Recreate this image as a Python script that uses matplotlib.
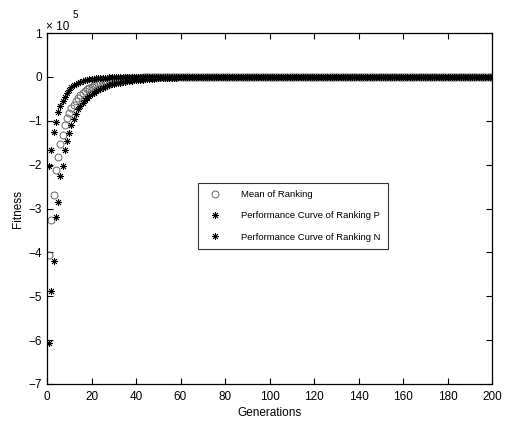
import matplotlib
matplotlib.use("Agg")
import matplotlib.pyplot as plt

plt.rcParams['font.family'] = ['Liberation Sans', 'DejaVu Sans']

generations = list(range(1, 201))

mean_ranking = [
    -4.05, -3.26, -2.69, -2.12, -1.82, -1.53, -1.32, -1.09, -0.94, -0.82,
    -0.72, -0.63, -0.55, -0.48, -0.42, -0.37, -0.32, -0.28, -0.25, -0.22,
    -0.19, -0.17, -0.15, -0.13, -0.115, -0.10, -0.09, -0.08, -0.07, -0.062,
    -0.055, -0.049, -0.044, -0.039, -0.035, -0.031, -0.028, -0.025, -0.022, -0.020,
    -0.018, -0.016, -0.014, -0.013, -0.011, -0.010, -0.009, -0.008, -0.007, -0.006,
    -0.005, -0.005, -0.004, -0.004, -0.003, -0.003, -0.003, -0.002, -0.002, -0.002,
] + [0.0] * 140

perf_p = [
    -2.02, -1.66, -1.25, -1.02, -0.79, -0.66, -0.55, -0.45, -0.36, -0.29,
    -0.23, -0.19, -0.16, -0.13, -0.11, -0.09, -0.075, -0.063, -0.053, -0.045,
    -0.038, -0.032, -0.027, -0.023, -0.020, -0.017, -0.015, -0.013, -0.011, -0.010,
    -0.009, -0.008, -0.007, -0.006, -0.005, -0.005, -0.004, -0.004, -0.003, -0.003,
] + [0.0] * 160

perf_n = [
    -6.06, -4.87, -4.20, -3.20, -2.85, -2.27, -2.04, -1.66, -1.47, -1.28,
    -1.10, -0.95, -0.84, -0.74, -0.66, -0.59, -0.53, -0.48, -0.44, -0.40,
    -0.36, -0.33, -0.30, -0.27, -0.25, -0.23, -0.21, -0.19, -0.17, -0.16,
    -0.15, -0.14, -0.13, -0.12, -0.11, -0.10, -0.09, -0.085, -0.08, -0.075,
    -0.07, -0.065, -0.06, -0.055, -0.05, -0.046, -0.042, -0.038, -0.035, -0.032,
    -0.029, -0.026, -0.024, -0.022, -0.020, -0.018, -0.016, -0.015, -0.013, -0.012,
    -0.011, -0.010, -0.009, -0.008, -0.007, -0.006, -0.005, -0.004, -0.003, -0.002,
] + [0.0] * 130

labels = ['Mean of Ranking', 'Performance Curve of Ranking P', 'Performance Curve of Ranking N']

fig = plt.figure(figsize=(5.05, 4.28), dpi=100)
ax = fig.add_axes([47/505, 1 - 384/428, 445/505, 351/428])

star = (8, 2, 0)
ax.plot(generations, mean_ranking, linestyle='none', marker='o', markersize=5,
        markerfacecolor='none', markeredgecolor='0.4', markeredgewidth=0.7, label=labels[0])
ax.plot(generations, perf_p, linestyle='none', marker=star, markersize=5,
        markeredgecolor='black', markeredgewidth=0.6, color='black', label=labels[1])
ax.plot(generations, perf_n, linestyle='none', marker=star, markersize=5,
        markeredgecolor='black', markeredgewidth=0.6, color='black', label=labels[2])

ax.set_xlim(0, 200)
ax.set_ylim(-7, 1)
ax.set_xticks(range(0, 201, 20))
ax.set_yticks(range(-7, 2))
ax.tick_params(direction='in', top=True, right=True, length=4, width=0.8, labelsize=8.5)
ax.tick_params(axis='x', pad=5)
for s in ax.spines.values():
    s.set_linewidth(0.9)

ax.set_xlabel('Generations', fontsize=8.5, labelpad=3)
ax.set_ylabel('Fitness', fontsize=8.5, labelpad=3)

ax.text(-0.002, 1.0, '\u00d7 10', transform=ax.transAxes, fontsize=8.5, ha='left', va='bottom')
ax.text(0.058, 1.038, '5', transform=ax.transAxes, fontsize=7, ha='left', va='bottom')

leg = ax.legend(loc='upper left', bbox_to_anchor=(151/445, 201/351), fontsize=6.8,
                frameon=True, fancybox=False, edgecolor='black', borderpad=0.75,
                borderaxespad=0.0, labelspacing=1.3, handletextpad=1.65, handlelength=2.2)
leg.get_frame().set_linewidth(0.8)

fig.savefig('out.png', dpi=100)
